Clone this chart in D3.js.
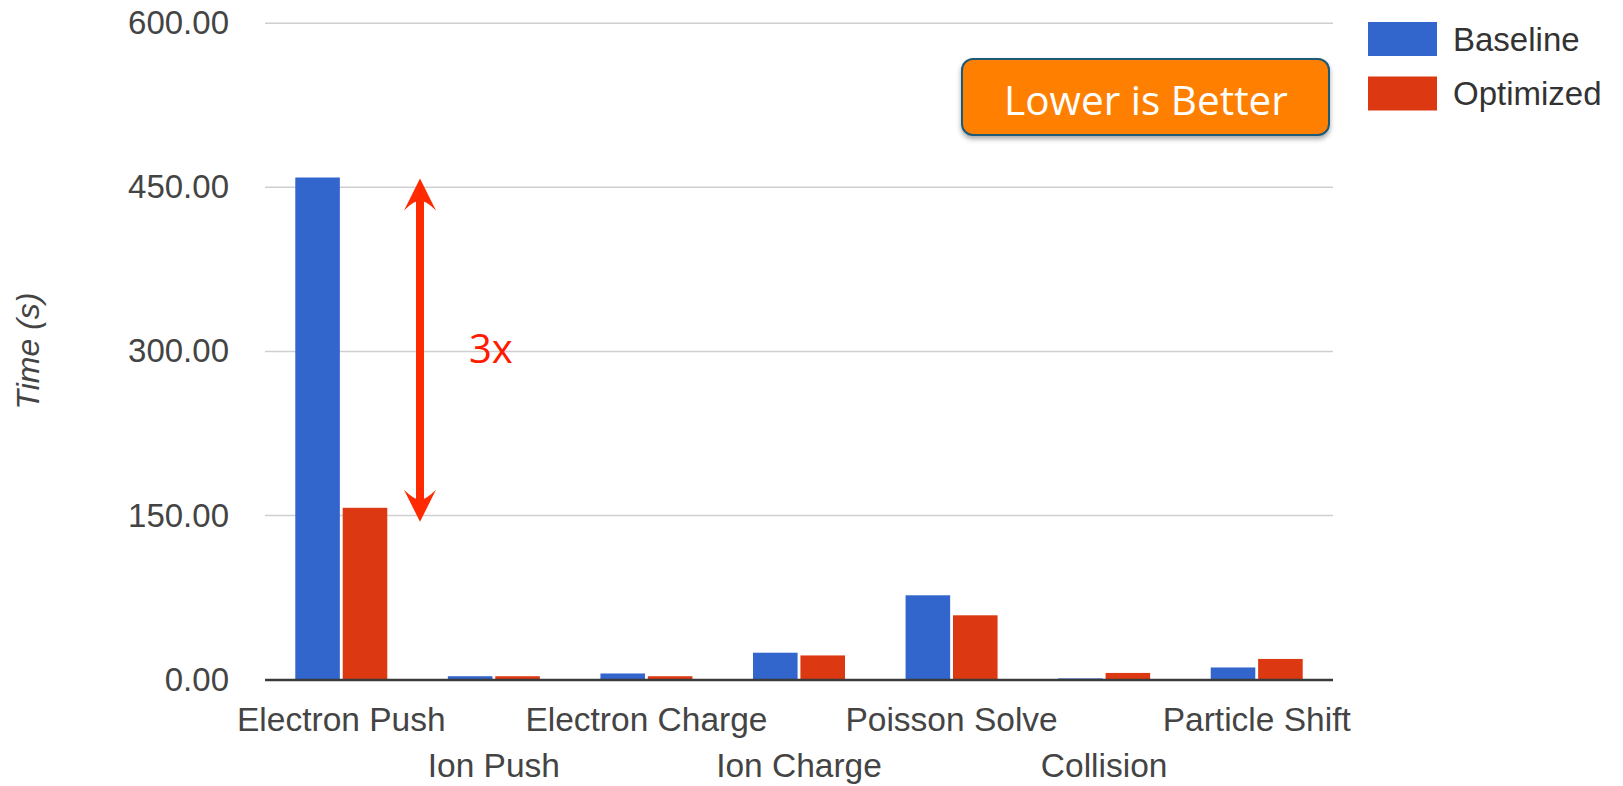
<!DOCTYPE html>
<html>
<head>
<meta charset="utf-8">
<script src="https://cdn.jsdelivr.net/npm/d3@7"></script>
<style>
  html, body { margin: 0; padding: 0; background: #fff; }
  svg { display: block; }
</style>
</head>
<body>
<svg id="chart" width="1623" height="786"></svg>
<script>
// Per-phase run time (seconds)
const categories = ["Electron Push", "Ion Push", "Electron Charge", "Ion Charge", "Poisson Solve", "Collision", "Particle Shift"];
const seriesNames = ["Baseline", "Optimized"];
const baselineTimes = [459, 3, 5.5, 24.5, 77, 1, 11];
const optimizedTimes = [157, 3, 3, 22, 58.7, 6, 18.8];
const yTicks = [0, 150, 300, 450, 600];
const colors = ["#3366CC", "#DC3912"];

const svg = d3.select("#chart");
const font = "'Liberation Sans', Arial, Helvetica, sans-serif";

const plot = { left: 265, right: 1333, top: 23.3, bottom: 679.5 };

const y = d3.scaleLinear().domain([0, 600]).range([plot.bottom, plot.top]);
const x = d3.scaleBand().domain(categories).range([plot.left, plot.right])
  .paddingInner(0.397).paddingOuter(0.1985);
const xs = d3.scaleBand().domain(seriesNames).range([0, x.bandwidth()]).paddingInner(0.06);

const rows = categories.map((c, i) => ({ cat: c, values: [baselineTimes[i], optimizedTimes[i]] }));

// Grid lines
svg.append("g")
  .selectAll("line")
  .data(yTicks.filter(t => t > 0))
  .join("line")
  .attr("x1", plot.left).attr("x2", plot.right)
  .attr("y1", d => y(d)).attr("y2", d => y(d))
  .attr("stroke", "#cfcfcf").attr("stroke-width", 1.5);

// Y axis tick labels
const yAxis = d3.axisLeft(y).tickValues(yTicks).tickFormat(d3.format(".2f")).tickSize(0).tickPadding(0);
const yg = svg.append("g").attr("transform", `translate(229,0)`).call(yAxis);
yg.select(".domain").remove();
yg.selectAll("text")
  .attr("x", 0)
  .attr("font-family", font).attr("font-size", 33).attr("fill", "#444");

// Bars
svg.append("g")
  .selectAll("g")
  .data(rows)
  .join("g")
  .attr("transform", d => `translate(${x(d.cat)},0)`)
  .selectAll("rect")
  .data(d => d.values.map((v, k) => ({ key: seriesNames[k], v, k })))
  .join("rect")
  .attr("x", d => xs(d.key))
  .attr("width", xs.bandwidth())
  .attr("y", d => y(d.v))
  .attr("height", d => y(0) - y(d.v))
  .attr("fill", d => colors[d.k]);

// Baseline axis
svg.append("line")
  .attr("x1", plot.left).attr("x2", plot.right)
  .attr("y1", y(0) + 0.5).attr("y2", y(0) + 0.5)
  .attr("stroke", "#3a3a3a").attr("stroke-width", 2.5);

// Category labels, staggered on two rows
const xAxis = d3.axisBottom(x).tickSize(0).tickPadding(0);
const xg = svg.append("g").attr("transform", "translate(0,0)").call(xAxis);
xg.select(".domain").remove();
xg.selectAll(".tick text")
  .attr("y", (d, i) => i % 2 === 0 ? 731 : 777)
  .attr("dy", 0)
  .attr("font-family", font).attr("font-size", 33.5).attr("fill", "#444");

// Y axis title
svg.append("text")
  .attr("transform", "translate(28,351) rotate(-90)")
  .attr("text-anchor", "middle")
  .attr("dominant-baseline", "central")
  .attr("font-family", font).attr("font-size", 32).attr("font-style", "italic")
  .attr("fill", "#444")
  .text("Time (s)");

// Legend
const legend = svg.append("g").attr("transform", "translate(1368,22)");
const li = legend.selectAll("g").data(seriesNames).join("g")
  .attr("transform", (d, i) => `translate(0,${i * 54.5})`);
li.append("rect").attr("width", 69).attr("height", 34).attr("fill", (d, i) => colors[i]);
li.append("text")
  .attr("x", 85).attr("y", 17).attr("dominant-baseline", "central")
  .attr("font-family", font).attr("font-size", 33).attr("fill", "#333")
  .text(d => d);

// "Lower is Better" callout
const defs = svg.append("defs");
const f = defs.append("filter").attr("id", "shadow").attr("x", "-10%").attr("y", "-20%").attr("width", "120%").attr("height", "160%");
f.append("feDropShadow").attr("dx", 0).attr("dy", 3).attr("stdDeviation", 2.5)
  .attr("flood-color", "#000").attr("flood-opacity", 0.35);

svg.append("rect")
  .attr("x", 962).attr("y", 59).attr("width", 367).attr("height", 76)
  .attr("rx", 11).attr("ry", 11)
  .attr("fill", "#FF7F00").attr("stroke", "#1E5A78").attr("stroke-width", 2)
  .attr("filter", "url(#shadow)");
svg.append("text")
  .attr("x", 1146).attr("y", 115)
  .attr("text-anchor", "middle")
  .attr("font-family", "'Open Sans', 'Noto Sans', sans-serif").attr("font-size", 40.5)
  .attr("fill", "#fff")
  .text("Lower is Better");

// Speed-up arrow between Electron Push bars
const ax = 420;
const topTip = y(baselineTimes[0]) + 1;
const botTip = y(optimizedTimes[0]) + 14;
const red = "#FF2A00";
svg.append("line")
  .attr("x1", ax).attr("x2", ax)
  .attr("y1", topTip + 20).attr("y2", botTip - 20)
  .attr("stroke", red).attr("stroke-width", 8);
function head(tipY, dir) {
  // dir = 1 points up, -1 points down
  const p = d3.path();
  p.moveTo(ax, tipY);
  p.lineTo(ax + 16, tipY + dir * 32);
  p.quadraticCurveTo(ax + 6, tipY + dir * 22, ax, tipY + dir * 22);
  p.quadraticCurveTo(ax - 6, tipY + dir * 22, ax - 16, tipY + dir * 32);
  p.closePath();
  return p.toString();
}
svg.append("path").attr("d", head(topTip, 1)).attr("fill", red);
svg.append("path").attr("d", head(botTip, -1)).attr("fill", red);

svg.append("text")
  .attr("x", 469).attr("y", 363)
  .attr("font-family", "'Open Sans', 'Noto Sans', sans-serif").attr("font-size", 40)
  .attr("fill", "#FF1A00")
  .text("3x");
</script>
</body>
</html>
